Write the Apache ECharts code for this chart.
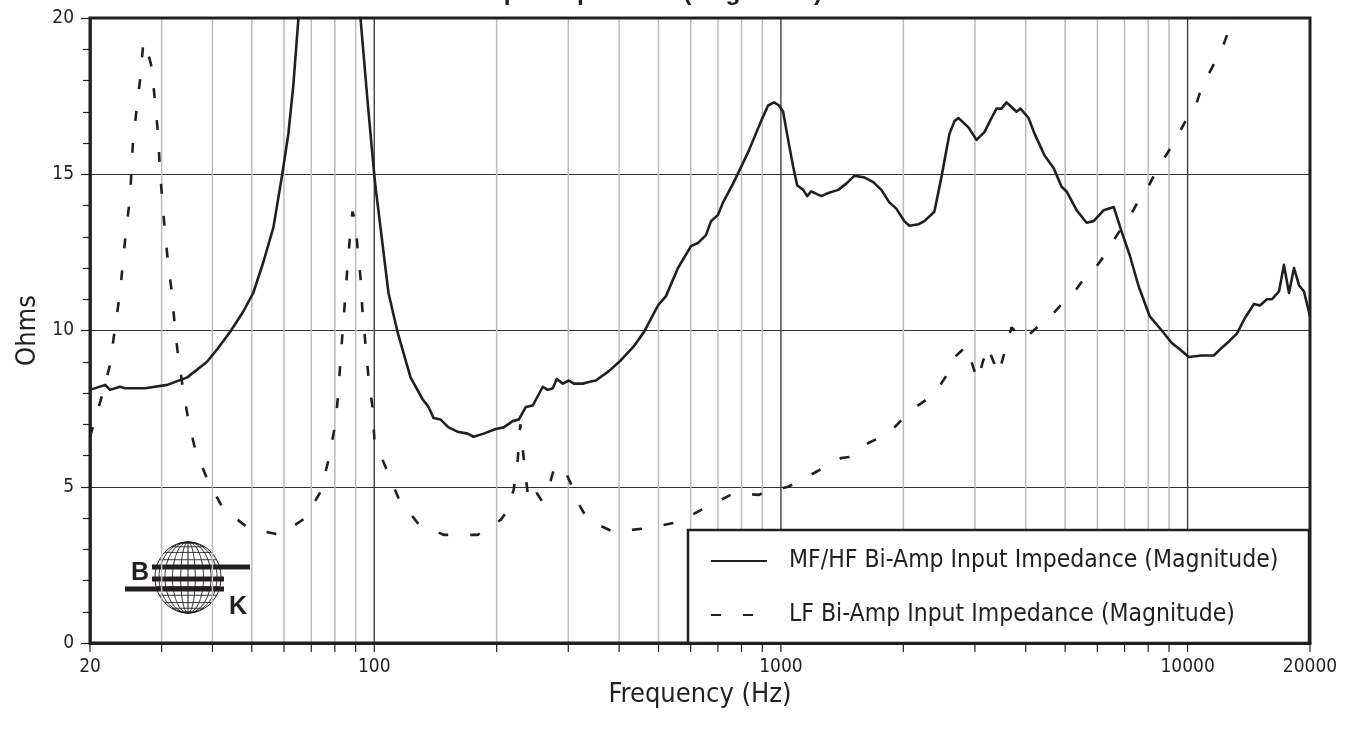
<!DOCTYPE html>
<html>
<head>
<meta charset="utf-8">
<script src="https://cdn.jsdelivr.net/npm/echarts@6/dist/echarts.min.js"></script>
<style>
html,body{margin:0;padding:0;background:#fff;}
#chart{width:1357px;height:729px;}
</style>
</head>
<body>
<div id="chart"></div>
<script>
// ---------------- DATA ----------------
const titleText = 'Input Impedance (Magnitude)';
const xAxisName = 'Frequency (Hz)';
const yAxisName = 'Ohms';
const seriesNames = ['MF/HF Bi-Amp Input Impedance (Magnitude)', 'LF Bi-Amp Input Impedance (Magnitude)'];
const xTickLabels = [20, 100, 1000, 10000, 20000];
const xTickFreqs = [20,30,40,50,60,70,80,90,100,200,300,400,500,600,700,800,900,
  1000,2000,3000,4000,5000,6000,7000,8000,9000,10000,20000];

// MF/HF Bi-Amp (solid)
const mfFreq = [20,21.8,22.4,23.7,24.4,27.3,31.0,34.7,38.8,41.1,44.2,47.6,50.4,53.4,56.5,59.4,61.5,63.2,65.1,77,
  92.5,96.2,99.0,100.7,103.6,105.4,108.4,114.1,122.8,131.5,136.0,139.9,145.6,152.3,161.2,169.7,175.5,185.8,198.9,
  208.1,219.0,226.6,235.8,245.3,259.7,267.2,274.8,281.1,290.9,300.9,309.6,325.8,337.1,350.7,377.5,404.2,435.1,460.5,
  498.5,521.6,558.3,601.1,625.3,654.3,673.1,700.4,720.6,762.7,789.1,830.3,893.8,929.9,962.1,989.9,1012.6,1041.7,
  1071.7,1096.3,1134.3,1160.3,1186.9,1256.3,1307.2,1383.6,1447.8,1515,1603,1687,1766,1847,1922,2011,2069,2178,2253,
  2384,2481,2597,2672,2732,2892,3026,3166,3295,3389,3487,3587,3690,3796,3883,4064,4204,4450,4684,4900,5041,5335,5646,
  5876,6221,6584,6890,7210,7586,8074,8640,9144,9568,10068,10840,11604,12142,12634,13222,13836,14562,15066,15676,16124,
  16780,17258,17756,18268,18792,19332,20000];
const mfOhms = [8.1,8.26,8.1,8.2,8.15,8.15,8.26,8.5,9.0,9.4,9.95,10.6,11.2,12.2,13.3,15.0,16.3,17.8,20.0,60,
  20.0,17.4,15.6,14.6,13.3,12.5,11.2,9.95,8.5,7.8,7.55,7.2,7.15,6.9,6.75,6.7,6.6,6.7,6.85,
  6.9,7.1,7.15,7.55,7.6,8.2,8.1,8.15,8.45,8.3,8.4,8.3,8.3,8.35,8.4,8.7,9.05,9.5,9.95,
  10.8,11.1,12.0,12.7,12.8,13.05,13.5,13.7,14.1,14.7,15.1,15.7,16.7,17.2,17.3,17.2,17.0,16.1,
  15.25,14.65,14.5,14.3,14.45,14.3,14.4,14.5,14.7,14.95,14.9,14.75,14.5,14.1,13.9,13.5,13.35,13.4,13.5,
  13.8,14.9,16.3,16.7,16.8,16.5,16.1,16.35,16.8,17.1,17.1,17.3,17.15,17.0,17.1,16.8,16.3,15.6,15.2,14.6,14.45,13.85,13.45,
  13.5,13.85,13.95,13.15,12.4,11.4,10.45,10.0,9.6,9.4,9.15,9.2,9.2,9.45,9.65,9.9,10.4,10.85,10.8,11.0,11.0,
  11.25,12.1,11.2,12.0,11.45,11.25,10.45];

// LF Bi-Amp (dashed)
const lfFreq = [20,21.5,22.4,23.0,23.7,24.4,25.1,25.5,26.1,26.6,27.0,27.3,28.4,28.9,29.4,29.7,30.1,30.6,31.1,31.8,
  32.4,33.0,33.9,34.9,36.3,39.1,42.5,49.0,58.7,67.7,73.7,77.2,80.3,81.7,82.6,84.0,85.9,87.4,88.4,89.9,90.9,92.5,
  93.5,95.1,96.8,99.0,100.1,106.6,114.7,127.8,148.1,179.6,204.6,210.5,220.2,225.3,228.6,234.4,240,250.9,258.2,265.6,
  276.4,290.9,307.8,316.7,335.2,388.3,471.0,558.3,650.6,767.0,883.7,909.1,1041.7,1207,1407,1472,1640,1847,2069,2384,
  2626,2701,2859,3043,3220,3428,3690,3950,4180,4553,4684,5041,5246,5646,5908,6325,6508,6968,7210,7627,7936,8398,8640,
  9248,9515,10068,10480,10840,11152,11804,12142,12706,13072,20000];
const lfOhms = [6.6,8.0,8.9,10.0,11.2,12.9,14.3,16.0,17.2,18.1,19.1,19.25,18.4,17.3,16.3,15.2,14.2,13.1,12.2,11.2,
  10.0,9.1,8.1,7.14,6.18,5.15,4.3,3.68,3.46,4.0,4.83,5.86,7.04,8.1,9.06,10.3,12.0,13.2,13.8,13.5,12.7,11.7,
  10.66,9.6,8.5,7.55,6.5,5.63,4.64,3.84,3.46,3.46,3.94,4.16,4.9,5.86,7.0,5.6,4.5,4.8,4.55,4.75,
  5.55,5.66,4.96,4.5,3.94,3.55,3.68,3.87,4.32,4.8,4.74,4.83,5.0,5.44,5.92,5.95,6.4,6.72,7.4,7.97,
  8.8,9.2,9.5,8.4,9.5,8.6,10.1,9.7,10.0,10.43,10.56,11.02,11.2,11.78,11.97,12.5,12.8,13.38,13.63,14.24,14.5,15.14,15.39,
  16.0,16.3,16.9,17.2,17.8,18.1,18.7,19.0,19.7,19.9,24.5];

// ---------------- CHART ----------------
const INK = '#231f20';
const FONT = "'Liberation Sans Narrow','DejaVu Sans Condensed','Liberation Sans',sans-serif";
const chart = echarts.init(document.getElementById('chart'), null, {renderer: 'canvas'});

function zip(a, b) { return a.map((v, i) => [v, b[i]]); }

function ellipsePts(rx, ry, n) {
  const pts = [];
  for (let i = 0; i < n; i++) {
    const t = i / n * Math.PI * 2;
    pts.push([rx * Math.cos(t), ry * Math.sin(t)]);
  }
  return pts;
}

// logo (B&K globe)
const GRX = 33, GRY = 35.5;
const globeChildren = [{type: 'polygon', shape: {points: ellipsePts(GRX, GRY, 72)}, style: {fill: '#fff', stroke: INK, lineWidth: 1}}];
[0.22, 0.47, 0.7, 0.88].forEach(k => {
  globeChildren.push({type: 'polygon', shape: {points: ellipsePts(GRX * k, GRY, 60)}, style: {fill: null, stroke: INK, lineWidth: 0.9}});
});
globeChildren.push({type: 'line', shape: {x1: 0, y1: -GRY, x2: 0, y2: GRY}, style: {stroke: INK, lineWidth: 1}});
[-75, -60, -45, -30, -15, 0, 15, 30, 45, 60, 75].forEach(lat => {
  const r = lat * Math.PI / 180;
  const y = GRY * Math.sin(r), hw = GRX * Math.cos(r);
  globeChildren.push({type: 'line', shape: {x1: -hw, y1: y, x2: hw, y2: y}, style: {stroke: INK, lineWidth: 0.9}});
});

const logo = {
  type: 'group', x: 0, y: 0, z: 50, silent: true,
  children: [
    {type: 'group', x: 188, y: 577.5, children: globeChildren},
    {type: 'rect', shape: {x: 152, y: 564.5, width: 98, height: 5}, style: {fill: INK}},
    {type: 'rect', shape: {x: 152, y: 576.5, width: 72, height: 5}, style: {fill: INK}},
    {type: 'rect', shape: {x: 125, y: 586.5, width: 99, height: 5}, style: {fill: INK}},
    {type: 'text', x: 140, y: 573, style: {text: 'B', fill: INK, font: "bold 25px 'Liberation Sans', Arial, sans-serif", textAlign: 'center', textVerticalAlign: 'middle'}},
    {type: 'text', x: 238, y: 607, style: {text: 'K', fill: INK, font: "bold 25px 'Liberation Sans', Arial, sans-serif", textAlign: 'center', textVerticalAlign: 'middle'}}
  ]
};

const option = {
  backgroundColor: '#fff',
  animation: false,
  textStyle: {fontFamily: FONT, color: INK},
  grid: {left: 90, right: 47, top: 18, bottom: 86, show: true, borderColor: INK, borderWidth: 3, backgroundColor: 'transparent', z: 3},
  graphic: [
    {type: 'text', x: 652, y: 6, z: 50, style: {text: titleText, fill: INK, font: "bold 24.5px 'Liberation Sans', Arial, sans-serif", textAlign: 'center', textVerticalAlign: 'bottom'}},
    logo
  ],
  legend: {
    orient: 'vertical', left: 688, top: 530,
    padding: [17, 30, 14, 22],
    itemWidth: 56, itemHeight: 20, itemGap: 26,
    backgroundColor: '#fff', borderColor: INK, borderWidth: 2.5, borderRadius: 0,
    itemStyle: {opacity: 0},
    textStyle: {fontFamily: FONT, fontSize: 24.5, lineHeight: 28, color: INK, padding: [0, 0, 0, 17], width: 490},
    data: seriesNames, z: 20, selectedMode: false
  },
  xAxis: {
    type: 'log', logBase: 10, min: 20, max: 20000,
    name: xAxisName, nameLocation: 'middle', nameGap: 35,
    nameTextStyle: {fontFamily: FONT, fontSize: 27, color: INK},
    axisLine: {show: true, lineStyle: {color: INK, width: 3}},
    axisTick: {show: false},
    axisLabel: {
      fontFamily: FONT, fontSize: 19, color: INK, margin: 15,
      showMinLabel: true, showMaxLabel: true,
      formatter: v => { const r = Math.round(v); return xTickLabels.indexOf(r) >= 0 ? String(r) : ''; }
    },
    splitLine: {show: false}
  },
  yAxis: {
    type: 'value', min: 0, max: 20, interval: 5,
    name: yAxisName, nameLocation: 'middle', nameGap: 48,
    nameTextStyle: {fontFamily: FONT, fontSize: 27, color: INK},
    axisLine: {show: true, lineStyle: {color: INK, width: 2.5}},
    axisTick: {show: true, inside: false, length: 9, lineStyle: {color: INK, width: 1.2}},
    minorTick: {show: true, splitNumber: 5, length: 7, lineStyle: {color: INK, width: 1.2}},
    axisLabel: {fontFamily: FONT, fontSize: 19, color: INK, margin: 16},
    splitLine: {show: true, lineStyle: {color: '#333', width: 1.2}}
  },
  series: [
    {
      type: 'custom', silent: true, z: 1, clip: false,
      encode: {x: 0, y: 1},
      data: xTickFreqs.map(f => [f, 0]),
      renderItem: function (params, api) {
        const f = api.value(0);
        const p0 = api.coord([f, 0]);
        const p1 = api.coord([f, 20]);
        const dec = Math.log10(f);
        const major = Math.abs(dec - Math.round(dec)) < 1e-9;
        const edge = (f === 20 || f === 20000);
        const children = [];
        if (!edge) {
          children.push({type: 'line', shape: {x1: p0[0], y1: p1[1], x2: p0[0], y2: p0[1]},
            style: {stroke: major ? '#333' : '#bdbdbd', lineWidth: major ? 1.3 : 1.5}});
        }
        children.push({type: 'line', shape: {x1: p0[0], y1: p0[1], x2: p0[0], y2: p0[1] + 9},
          style: {stroke: INK, lineWidth: 1.2}});
        return {type: 'group', children: children};
      }
    },
    {
      name: seriesNames[0], type: 'line', data: zip(mfFreq, mfOhms),
      symbol: 'none', smooth: false, z: 5, clip: true,
      lineStyle: {color: INK, width: 2.6, join: 'round'},
      itemStyle: {color: INK}
    },
    {
      name: seriesNames[1], type: 'line', data: zip(lfFreq, lfOhms),
      symbol: 'none', smooth: false, z: 5, clip: true,
      lineStyle: {color: INK, width: 2.6, type: [10, 22], cap: 'butt'},
      itemStyle: {color: INK}
    }
  ]
};
chart.setOption(option);
</script>
</body>
</html>
